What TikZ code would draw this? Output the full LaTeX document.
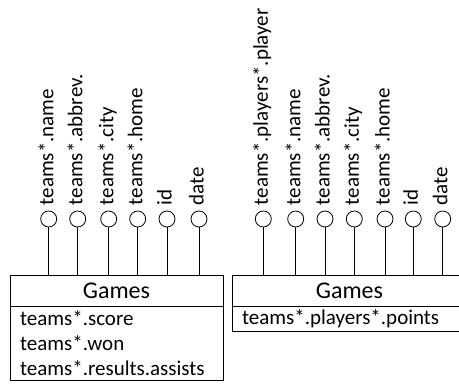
\documentclass[tikz,border=0pt]{standalone}
\usepackage{fontspec}
\setmainfont{Carlito}
\usetikzlibrary{positioning}
\tikzset{
  attr/.style={draw,circle,minimum size=16pt,inner sep=0pt},
  attrname/.style={rotate=90,anchor=base west,inner sep=0pt,font=\fontsize{21}{25}\selectfont},
  entity/.style={draw,outer sep=0pt,minimum height=31pt,anchor=north west,font=\fontsize{24}{28}\selectfont},
  fields/.style={draw,outer sep=0pt,align=left,inner xsep=10pt,font=\fontsize{21}{25}\selectfont},
}
\newcommand{\tm}{teams*}

\begin{document}
\begin{tikzpicture}[x=1pt,y=1pt,line width=0.8pt]
   \useasboundingbox (0,0) rectangle (459,386);
   % left table
   \node[entity,minimum width=213pt] (lgames) at (10,111) {Games};
   \node[fields,below=0pt of lgames,minimum height=74pt,text width=193pt] (lfields) {\tm.score\\\tm.won\\\tm.results.assists};
   \node[attr] (lname)   at (48.7,167)  {};
   \node[attr] (labbrev) at (77.7,167)  {};
   \node[attr] (lcity)   at (108.7,167) {};
   \node[attr] (lhome)   at (137.7,167) {};
   \node[attr] (lid)     at (167,167)   {};
   \node[attr] (ldate)   at (199,167)   {};
   \node[attrname] (lnamet)   at ([xshift=4.6pt,yshift=5pt]lname.north)   {\tm.name};
   \node[attrname] (labbrevt) at ([xshift=4.6pt,yshift=5pt]labbrev.north) {\tm.abbrev.};
   \node[attrname] (lcityt)   at ([xshift=4.6pt,yshift=5pt]lcity.north)   {\tm.city};
   \node[attrname] (lhomet)   at ([xshift=4.6pt,yshift=5pt]lhome.north)   {\tm.home};
   \node[attrname] (lidt)     at ([xshift=4.6pt,yshift=5pt]lid.north)     {id};
   \node[attrname] (ldatet)   at ([xshift=4.6pt,yshift=5pt]ldate.north)   {date};
   \draw (lname) -- (lname |- lgames.north);
   \draw (labbrev) -- (labbrev |- lgames.north);
   \draw (lcity) -- (lcity |- lgames.north);
   \draw (lhome) -- (lhome |- lgames.north);
   \draw (lid) -- (lid |- lgames.north);
   \draw (ldate) -- (ldate |- lgames.north);
   % right table
   \node[entity,minimum width=235pt] (rgames) at (232,111) {Games};
   \node[fields,below=0pt of rgames,minimum height=22pt,text width=215pt] (rfields) {\tm.players*.points};
   \node[attr] (rplayer) at (263.3,167) {};
   \node[attr] (rname)   at (295.7,167) {};
   \node[attr] (rabbrev) at (325,167)   {};
   \node[attr] (rcity)   at (354.3,167) {};
   \node[attr] (rhome)   at (385,167)   {};
   \node[attr] (rid)     at (413.3,167) {};
   \node[attr] (rdate)   at (442.7,167) {};
   \node[attrname] (rplayert) at ([xshift=4.6pt,yshift=5pt]rplayer.north) {\tm.players*.player};
   \node[attrname] (rnamet)   at ([xshift=4.6pt,yshift=5pt]rname.north)   {\tm.name};
   \node[attrname] (rabbrevt) at ([xshift=4.6pt,yshift=5pt]rabbrev.north) {\tm.abbrev.};
   \node[attrname] (rcityt)   at ([xshift=4.6pt,yshift=5pt]rcity.north)   {\tm.city};
   \node[attrname] (rhomet)   at ([xshift=4.6pt,yshift=5pt]rhome.north)   {\tm.home};
   \node[attrname] (ridt)     at ([xshift=4.6pt,yshift=5pt]rid.north)     {id};
   \node[attrname] (rdatet)   at ([xshift=4.6pt,yshift=5pt]rdate.north)   {date};
   \draw (rplayer) -- (rplayer |- rgames.north);
   \draw (rname) -- (rname |- rgames.north);
   \draw (rabbrev) -- (rabbrev |- rgames.north);
   \draw (rcity) -- (rcity |- rgames.north);
   \draw (rhome) -- (rhome |- rgames.north);
   \draw (rid) -- (rid |- rgames.north);
   \draw (rdate) -- (rdate |- rgames.north);
\end{tikzpicture}
\end{document}
